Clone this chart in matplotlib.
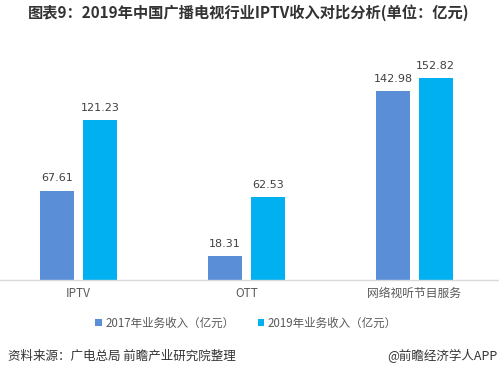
import matplotlib
matplotlib.use("Agg")
import matplotlib.pyplot as plt
import numpy as np

plt.rcParams['font.family'] = ['Noto Sans CJK SC', 'DejaVu Sans']

categories = ["IPTV", "OTT", "网络视听节目服务"]
series_names = ["2017年业务收入（亿元）", "2019年业务收入（亿元）"]
values_2017 = [67.61, 18.31, 142.98]
values_2019 = [121.23, 62.53, 152.82]
colors = ["#5A8FD8", "#00B0F0"]

fig = plt.figure(figsize=(4.99, 3.75), dpi=100)
H = 375.0
W = 499.0
ax = fig.add_axes([0, (H - 280) / H, 1, (280 - 60) / H])
ymax = 220 / 1.32
ax.set_ylim(0, ymax)
ax.set_xlim(-0.467, 2.503)

x = np.arange(len(categories))
w = 0.202
off = 0.127
b1 = ax.bar(x - off, values_2017, width=w, color=colors[0], label=series_names[0])
b2 = ax.bar(x + off, values_2019, width=w, color=colors[1], label=series_names[1])

for bars, vals in ((b1, values_2017), (b2, values_2019)):
    for r, v in zip(bars, vals):
        ax.text(r.get_x() + r.get_width() / 2, v + 5.5, f"{v:.2f}",
                ha="center", va="bottom", fontsize=8, color="#404040",
                family="DejaVu Sans")

for s in ("top", "right", "left"):
    ax.spines[s].set_visible(False)
ax.spines["bottom"].set_color("#D9D9D9")
ax.spines["bottom"].set_linewidth(1)
ax.set_yticks([])
ax.set_xticks(x)
ax.set_xticklabels(categories, fontsize=8.5, color="#595959")
ax.tick_params(axis="x", length=0, pad=5)

fig.text(0.5 * (23 + 475) / W, 1 - 13 / H,
         "图表9：2019年中国广播电视行业IPTV收入对比分析(单位：亿元)",
         ha="center", va="center", fontsize=11, fontweight="bold", color="#333333")

leg = fig.legend(handles=[b1, b2], labels=series_names,
                 loc="center", bbox_to_anchor=(246 / W, 1 - 323 / H),
                 ncol=2, frameon=False, fontsize=8.3, handlelength=0.6, handleheight=0.6,
                 handletextpad=0.3, columnspacing=2.0)
for t in leg.get_texts():
    t.set_color("#595959")

fig.text(8 / W, 1 - 356 / H, "资料来源：广电总局 前瞻产业研究院整理",
         ha="left", va="center", fontsize=9, color="#333333")
fig.text(497 / W, 1 - 356 / H, "@前瞻经济学人APP",
         ha="right", va="center", fontsize=9, color="#333333")

fig.savefig("out.png", dpi=100)
